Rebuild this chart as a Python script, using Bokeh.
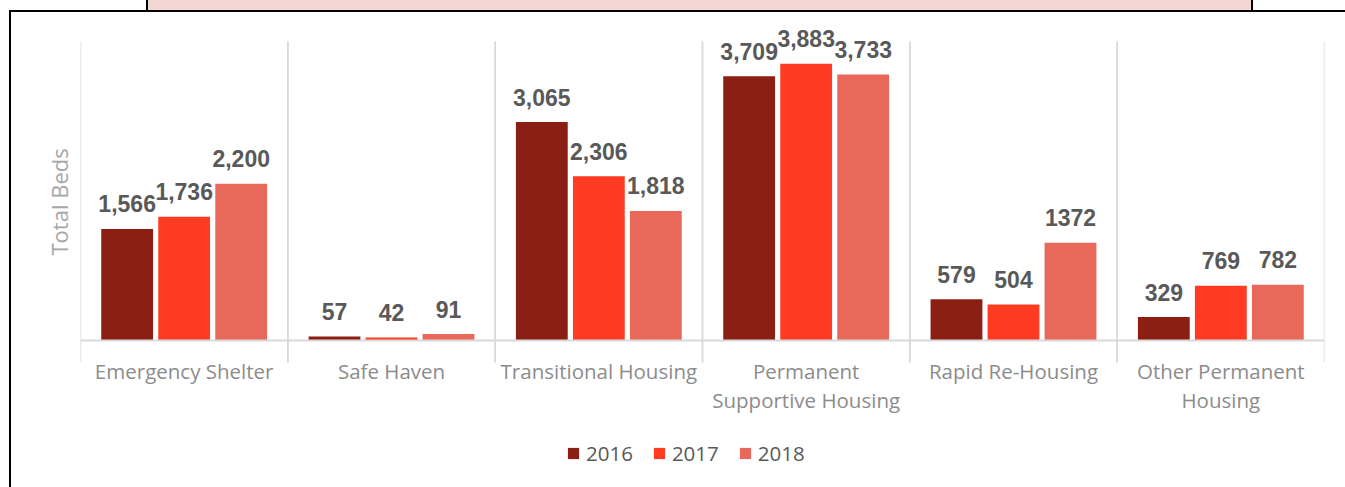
from bokeh.plotting import figure
from bokeh.models import ColumnDataSource, Span, FactorRange, Range1d, InlineStyleSheet, Title
from bokeh.transform import dodge
from bokeh.core.properties import value
from bokeh.embed import file_html
from bokeh.resources import INLINE

categories = ["Emergency Shelter", "Safe Haven", "Transitional Housing",
              "Permanent\nSupportive Housing", "Rapid Re-Housing", "Other Permanent\nHousing"]
years = ["2016", "2017", "2018"]
beds_2016 = [1566, 57, 3065, 3709, 579, 329]
beds_2017 = [1736, 42, 2306, 3883, 504, 769]
beds_2018 = [2200, 91, 1818, 3733, 1372, 782]
labels_2016 = ["1,566", "57", "3,065", "3,709", "579", "329"]
labels_2017 = ["1,736", "42", "2,306", "3,883", "504", "769"]
labels_2018 = ["2,200", "91", "1,818", "3,733", "1372", "782"]

colors = ["#8B1F14", "#FF3C21", "#E8695A"]
offsets = [-0.275, 0.0, 0.275]

src = ColumnDataSource(dict(
    cat=categories,
    y2016=beds_2016, y2017=beds_2017, y2018=beds_2018,
    l2016=labels_2016, l2017=labels_2017, l2018=labels_2018,
))

css = InlineStyleSheet(css="""
:host::before {
  content: ""; position: absolute; left: 146px; top: -8px; width: 1107px; height: 20px;
  box-sizing: border-box; background: #f2d7d3;
  border-left: 2px solid #000; border-right: 2px solid #000; border-bottom: 2px solid #000;
  z-index: 5; pointer-events: none;
}
:host::after {
  content: ""; position: absolute; left: 9px; top: 10px; width: 1336px; height: 477px;
  box-sizing: border-box;
  border-left: 2px solid #000; border-top: 2px solid #000;
  z-index: 5; pointer-events: none;
}
""")

Y_TOP, Y_BOTTOM = 4491, -2063          # frame extent (value units)
SEP_TOP, SEP_BOTTOM = 4196, -309       # category separator extent

p = figure(x_range=FactorRange(*categories), y_range=Range1d(Y_BOTTOM, Y_TOP),
           width=1345, height=487, output_backend="svg", toolbar_location=None,
           min_border_left=80, min_border_right=21, min_border_top=20, min_border_bottom=0,
           stylesheets=[css])
p.outline_line_color = None
p.xgrid.visible = False
p.ygrid.visible = False
p.xaxis.visible = False
p.yaxis.visible = False
p.background_fill_color = "white"
p.border_fill_color = "white"

p.add_layout(Title(text="Total Beds", align="left", offset=232, standoff=14,
                   text_font="Open Sans", text_font_size="22px", text_font_style="normal",
                   text_color="#a6a6a6"), "left")

# category separators (tick marks extending below baseline) and baseline
for side in (-0.5, 0.5):
    p.segment(x0=dodge("cat", side, range=p.x_range), x1=dodge("cat", side, range=p.x_range),
              y0=SEP_BOTTOM, y1=SEP_TOP, source=src, line_color="#d9d9d9", line_width=1.5)
p.add_layout(Span(location=0, dimension="width", line_color="#d9d9d9", line_width=2))

# category labels
p.text(x="cat", y=0, text="cat", source=src, y_offset=16,
       text_align="center", text_baseline="top", text_line_height=1.07,
       text_font=value("Open Sans"), text_font_size="20.5px", text_color="#8c8c8c")

for yr, col, off in zip(years, colors, offsets):
    p.vbar(x=dodge("cat", off, range=p.x_range), top="y" + yr, width=0.25, source=src,
           fill_color=col, line_color=None, legend_label=yr)
    p.text(x=dodge("cat", off, range=p.x_range), y="y" + yr, text="l" + yr, source=src,
           text_align="center", text_baseline="alphabetic", y_offset=-25,
           text_font=value("Liberation Sans"), text_font_style="bold",
           text_font_size="23px", text_color="#595959")

lg = p.legend[0]
lg.location = (486, 20)
lg.orientation = "horizontal"
lg.glyph_width = 14
lg.glyph_height = 14
lg.label_standoff = 6
lg.spacing = 19
lg.padding = 0
lg.margin = 0
lg.border_line_color = None
lg.background_fill_alpha = 0
lg.label_text_font = "Open Sans"
lg.label_text_font_size = "20.5px"
lg.label_text_color = "#595959"
lg.label_height = 20

open("out.html", "w").write(file_html(p, INLINE))
